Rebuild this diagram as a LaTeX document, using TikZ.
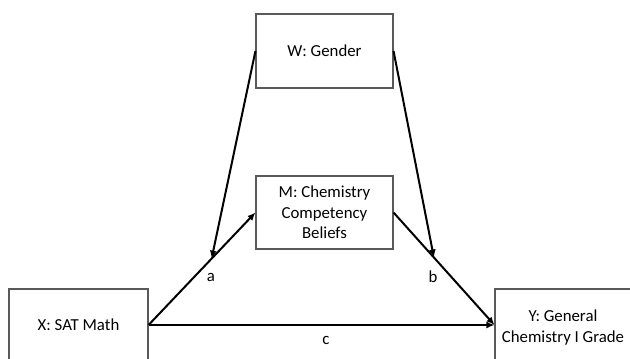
\documentclass[tikz,border=0pt]{standalone}
\usepackage{fontspec}
\setmainfont{Carlito}
\usetikzlibrary{arrows.meta}
\begin{document}
\begin{tikzpicture}[x=1pt,y=-1pt,
  box/.style={draw=black!65,line width=1.1pt,fill=white,align=center,inner sep=0pt,
    font=\fontsize{16.8}{20.5}\selectfont},
  conn/.style={line width=2pt,-{Latex[length=8pt,width=7pt]}},
  lab/.style={font=\fontsize{16.8}{20.5}\selectfont}]
\useasboundingbox (0,0) rectangle (630,359);
\clip (0,0) rectangle (630,359);
\node[box,minimum width=139pt,minimum height=72pt] (X) at (78.5,325) {X: SAT Math};
\node[box,minimum width=136pt,minimum height=77pt] (Y) at (563,327.5) {Y: General\\Chemistry I Grade};
\node[box,minimum width=137pt,minimum height=74pt] (W) at (324.5,51) {W: Gender};
\node[box,minimum width=137pt,minimum height=73pt] (M) at (324.5,212.5) {M: Chemistry\\Competency\\Beliefs};
\coordinate (Yin) at (Y.west |- X.east);
\draw[conn] (X.east) -- coordinate[pos=0.59] (pa) (M.west);
\draw[conn] (M.east) -- coordinate[pos=0.40] (pb) (Yin);
\draw[conn] (X.east) -- (Yin);
\draw[conn] (W.west) -- (pa);
\draw[conn] (W.east) -- (pb);
\node[lab] (la) at (211,277) {a};
\node[lab] (lb) at (433,277) {b};
\node[lab] (lc) at (326,340) {c};
\end{tikzpicture}
\end{document}
